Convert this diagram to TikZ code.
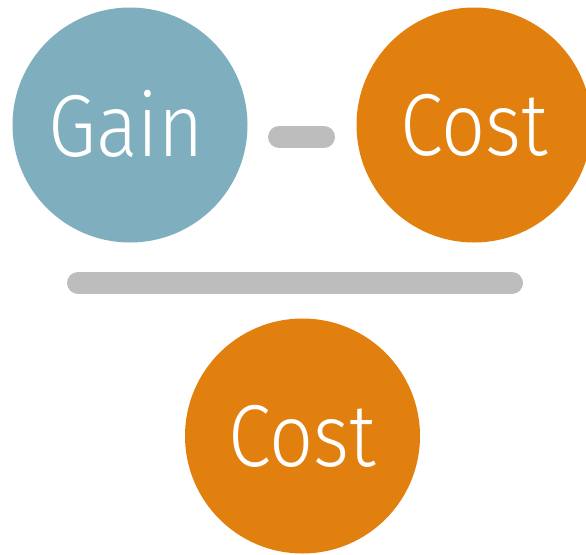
\documentclass[tikz,border=0pt]{standalone}
\usepackage{fontspec}
\newfontfamily\termfont{Fira Sans Light}[FakeStretch=0.88]
\definecolor{gainblue}{HTML}{7FAEBF}
\definecolor{costorange}{HTML}{E2800F}
\definecolor{bargray}{HTML}{BDBDBD}
\tikzset{
  term/.style={circle, minimum size=235pt, inner sep=0pt, text=white,
    font=\termfont\fontsize{88}{88}\selectfont},
  gainterm/.style={term, fill=gainblue},
  costterm/.style={term, fill=costorange},
  opbar/.style={draw=bargray, line width=22pt, line cap=round}
}
\begin{document}
\begin{tikzpicture}[x=1pt, y=-1pt]
  \useasboundingbox (0,0) rectangle (586,554);
  \clip (0,0) rectangle (586,554);
  % numerator: Gain - Cost
  \node[gainterm] (gain) at (130,125) {\raisebox{3pt}{\kern-8pt Gain}};
  \node[costterm] (cost) at (474,125) {Cost};
  \coordinate (minusL) at (279,137);
  \coordinate (minusR) at (324,137);
  \draw[opbar] (minusL) -- (minusR);
  % fraction bar
  \coordinate (fracL) at (78,283);
  \coordinate (fracR) at (512,283);
  \draw[opbar] (fracL) -- (fracR);
  % denominator
  \node[costterm] (base) at (302.5,436) {Cost};
\end{tikzpicture}
\end{document}
